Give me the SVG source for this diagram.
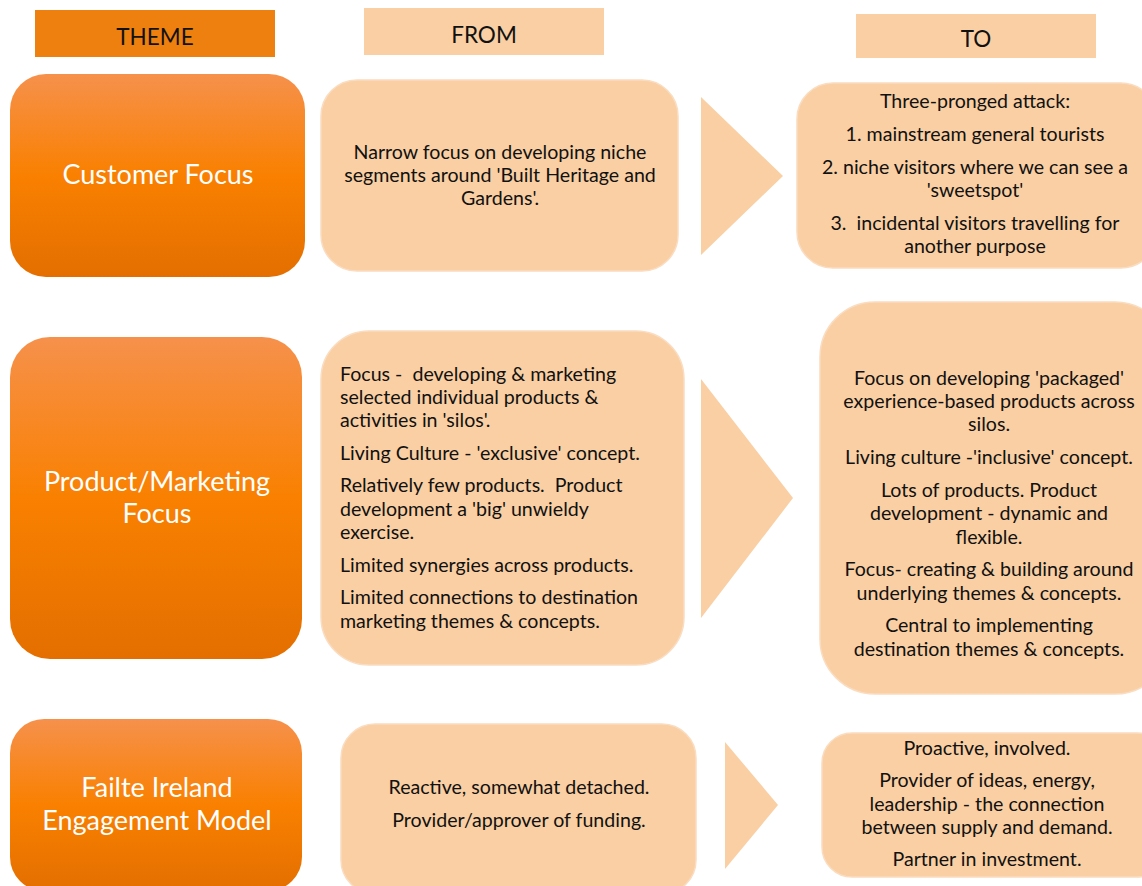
<svg xmlns="http://www.w3.org/2000/svg" width="1142" height="886" viewBox="0 0 1142 886">
  <style>
    .hdr-dark { fill: #EE800F; }
    .hdr-light { fill: #F9CFA3; }
    .hdr-txt { font-family: Lato, "Liberation Sans", sans-serif; font-size: 22.5px; fill: #111; text-anchor: middle; }
    .theme { fill: url(#themeGrad); }
    .panel { fill: #F9CFA3; stroke: #FADCC0; stroke-width: 1.5; }
    .arrow { fill: #F9CFA3; }
    .theme-txt { font-family: Lato, "Liberation Sans", sans-serif; font-size: 27px; fill: #FFFFFF; text-anchor: middle; }
    .body { font-family: Lato, "Liberation Sans", sans-serif; font-size: 19.6px; fill: #111; white-space: pre; }
    .mid { text-anchor: middle; }
  </style>
  <defs>
    <linearGradient id="themeGrad" x1="0" y1="0" x2="0" y2="1">
      <stop offset="0" stop-color="#F6914C"/>
      <stop offset="0.5" stop-color="#F98000"/>
      <stop offset="1" stop-color="#E46F00"/>
    </linearGradient>
  </defs>

  <!-- column headers -->
  <g id="header-theme">
    <rect class="hdr-dark" x="35" y="10" width="240" height="47"/>
    <text class="hdr-txt" x="155" y="45">THEME</text>
  </g>
  <g id="header-from">
    <rect class="hdr-light" x="364" y="8" width="240" height="47"/>
    <text class="hdr-txt" x="484" y="43">FROM</text>
  </g>
  <g id="header-to">
    <rect class="hdr-light" x="856" y="14" width="240" height="44"/>
    <text class="hdr-txt" x="976" y="47">TO</text>
  </g>

  <!-- row 1: customer focus -->
  <g id="theme-customer">
    <rect class="theme" x="10" y="74" width="295" height="203" rx="36"/>
    <text class="theme-txt" x="158" y="184">Customer Focus</text>
  </g>
  <g id="from-customer">
    <rect class="panel" x="321" y="80" width="357" height="191" rx="36"/>
    <text class="body mid" x="500" y="159">Narrow focus on developing niche</text>
    <text class="body mid" x="500" y="182">segments around 'Built Heritage and</text>
    <text class="body mid" x="500" y="205">Gardens'.</text>
  </g>
  <g id="to-customer">
    <rect class="panel" x="797" y="83" width="360" height="185" rx="36"/>
    <text class="body mid" x="975" y="108">Three-pronged attack:</text>
    <text class="body mid" x="975" y="141">1. mainstream general tourists</text>
    <text class="body mid" x="975" y="174">2. niche visitors where we can see a</text>
    <text class="body mid" x="975" y="197">'sweetspot'</text>
    <text class="body mid" x="975" y="230">3.  incidental visitors travelling for</text>
    <text class="body mid" x="975" y="253">another purpose</text>
  </g>

  <!-- row 2: product / marketing focus -->
  <g id="theme-product">
    <rect class="theme" x="10" y="337" width="292" height="322" rx="40"/>
    <text class="theme-txt" x="157" y="491">Product/Marketing</text>
    <text class="theme-txt" x="157" y="523">Focus</text>
  </g>
  <g id="from-product">
    <rect class="panel" x="321" y="331" width="363" height="334" rx="48"/>
    <text class="body" x="340" y="381">Focus -  developing &amp; marketing</text>
    <text class="body" x="340" y="404">selected individual products &amp;</text>
    <text class="body" x="340" y="427">activities in 'silos'.</text>
    <text class="body" x="340" y="460">Living Culture - 'exclusive' concept.</text>
    <text class="body" x="340" y="492">Relatively few products.  Product</text>
    <text class="body" x="340" y="516">development a 'big' unwieldy</text>
    <text class="body" x="340" y="539">exercise.</text>
    <text class="body" x="340" y="572">Limited synergies across products.</text>
    <text class="body" x="340" y="604">Limited connections to destination</text>
    <text class="body" x="340" y="628">marketing themes &amp; concepts.</text>
  </g>
  <g id="to-product">
    <rect class="panel" x="820" y="302" width="350" height="392" rx="55"/>
    <text class="body mid" x="989" y="385">Focus on developing 'packaged'</text>
    <text class="body mid" x="989" y="408">experience-based products across</text>
    <text class="body mid" x="989" y="431">silos.</text>
    <text class="body mid" x="989" y="464">Living culture -'inclusive' concept.</text>
    <text class="body mid" x="989" y="497">Lots of products. Product</text>
    <text class="body mid" x="989" y="520">development - dynamic and</text>
    <text class="body mid" x="989" y="544">flexible.</text>
    <text class="body mid" x="989" y="576">Focus- creating &amp; building around</text>
    <text class="body mid" x="989" y="600">underlying themes &amp; concepts.</text>
    <text class="body mid" x="989" y="632">Central to implementing</text>
    <text class="body mid" x="989" y="656">destination themes &amp; concepts.</text>
  </g>

  <!-- row 3: engagement model -->
  <g id="theme-engagement">
    <rect class="theme" x="10" y="719" width="292" height="172" rx="34"/>
    <text class="theme-txt" x="157" y="797">Failte Ireland</text>
    <text class="theme-txt" x="157" y="830">Engagement Model</text>
  </g>
  <g id="from-engagement">
    <rect class="panel" x="341" y="724" width="355" height="170" rx="34"/>
    <text class="body mid" x="519" y="794">Reactive, somewhat detached.</text>
    <text class="body mid" x="519" y="827">Provider/approver of funding.</text>
  </g>
  <g id="to-engagement">
    <rect class="panel" x="822" y="733" width="345" height="144" rx="30"/>
    <text class="body mid" x="987" y="755">Proactive, involved.</text>
    <text class="body mid" x="987" y="787">Provider of ideas, energy,</text>
    <text class="body mid" x="987" y="811">leadership - the connection</text>
    <text class="body mid" x="987" y="834">between supply and demand.</text>
    <text class="body mid" x="987" y="866">Partner in investment.</text>
  </g>

  <!-- transition arrows between FROM and TO -->
  <g id="connectors">
    <polygon class="arrow" points="701,97 783,176 701,255"/>
    <polygon class="arrow" points="701,379 793,498 701,618"/>
    <polygon class="arrow" points="725,742 778,805 725,869"/>
  </g>
</svg>
